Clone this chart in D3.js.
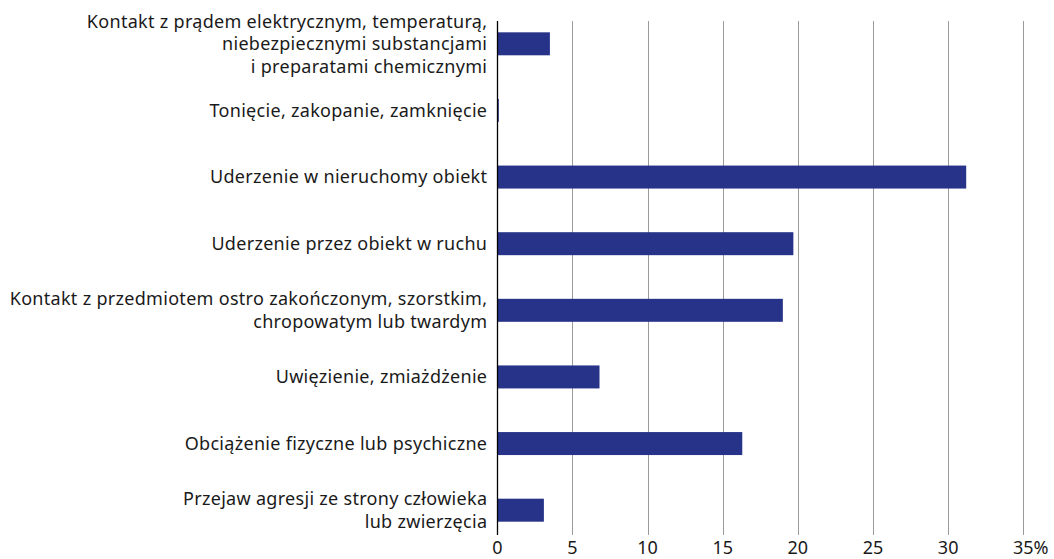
<!DOCTYPE html>
<html>
<head>
<meta charset="utf-8">
<script src="https://cdn.jsdelivr.net/npm/d3@7"></script>
<style>
  body { margin: 0; background: #fff; }
  svg text { font-family: "Noto Sans", sans-serif; fill: #1a1a1a; }
</style>
</head>
<body>
<div id="chart"></div>
<script>
// Data
const categories = [
    ["Kontakt z prądem elektrycznym, temperaturą,", "niebezpiecznymi substancjami", "i preparatami chemicznymi"],
    ["Tonięcie, zakopanie, zamknięcie"],
    ["Uderzenie w nieruchomy obiekt"],
    ["Uderzenie przez obiekt w ruchu"],
    ["Kontakt z przedmiotem ostro zakończonym, szorstkim,", "chropowatym lub twardym"],
    ["Uwięzienie, zmiażdżenie"],
    ["Obciążenie fizyczne lub psychiczne"],
    ["Przejaw agresji ze strony człowieka", "lub zwierzęcia"]
];
const values = [3.5, 0.1, 31.2, 19.7, 19.0, 6.8, 16.3, 3.1];
const tickValues = [0, 5, 10, 15, 20, 25, 30, 35];

const svgWidth = 1054;
const svgHeight = 559;

// Plot area
const x0 = 497.3, x1 = 1023.3;
const gridTop = 21, gridBottom = 535;

const svg = d3.select("#chart")
    .append("svg")
    .attr("width", svgWidth)
    .attr("height", svgHeight);

const xScale = d3.scaleLinear()
    .domain([0, 35])
    .range([x0, x1]);

const yScale = d3.scaleBand()
    .domain(d3.range(categories.length))
    .range([10.5, 543.5])
    .paddingInner(0.655)
    .paddingOuter(0.3275);

// Vertical gridlines
svg.append("g")
    .selectAll("line")
    .data(tickValues.slice(1))
    .enter()
    .append("line")
    .attr("x1", d => Math.round(xScale(d)) + 0.5)
    .attr("x2", d => Math.round(xScale(d)) + 0.5)
    .attr("y1", gridTop)
    .attr("y2", gridBottom)
    .attr("stroke", "#9a9a9a")
    .attr("stroke-width", 1);

// Bars
svg.append("g")
    .selectAll("rect")
    .data(values)
    .enter()
    .append("rect")
    .attr("x", xScale(0))
    .attr("y", (d, i) => yScale(i))
    .attr("width", d => xScale(d) - xScale(0))
    .attr("height", yScale.bandwidth())
    .attr("fill", "#263389");

// Zero axis line
svg.append("line")
    .attr("x1", Math.round(xScale(0)) + 0.5)
    .attr("x2", Math.round(xScale(0)) + 0.5)
    .attr("y1", gridTop)
    .attr("y2", gridBottom)
    .attr("stroke", "#000")
    .attr("stroke-width", 1.3);

// Category labels
const lineHeight = 22.5;
const labels = svg.append("g")
    .selectAll("text")
    .data(categories)
    .enter()
    .append("text")
    .attr("text-anchor", "end")
    .attr("font-size", "18px")
    .attr("letter-spacing", "0.3px")
    .attr("x", xScale(0) - 10)
    .attr("y", (d, i) => yScale(i) + yScale.bandwidth() / 2);

labels.each(function(lines) {
    const t = d3.select(this);
    const y = +t.attr("y");
    const start = -(lines.length - 1) / 2 * lineHeight;
    lines.forEach((line, k) => {
        t.append("tspan")
            .attr("x", xScale(0) - 10)
            .attr("y", y + start + k * lineHeight)
            .attr("dy", "0.35em")
            .text(line);
    });
});

// X tick labels
const ticks = svg.append("g")
    .selectAll("text")
    .data(tickValues)
    .enter()
    .append("text")
    .attr("font-size", "18px")
    .attr("x", d => xScale(d))
    .attr("y", 554)
    .attr("text-anchor", "middle")
    .text(d => d);

// Last tick gets a percent sign, keeping the number centred on its gridline
ticks.filter(d => d === 35).each(function() {
    const t = d3.select(this);
    const w = this.getComputedTextLength();
    t.attr("text-anchor", "start")
        .attr("x", xScale(35) - w / 2)
        .text("35%");
});
</script>
</body>
</html>
